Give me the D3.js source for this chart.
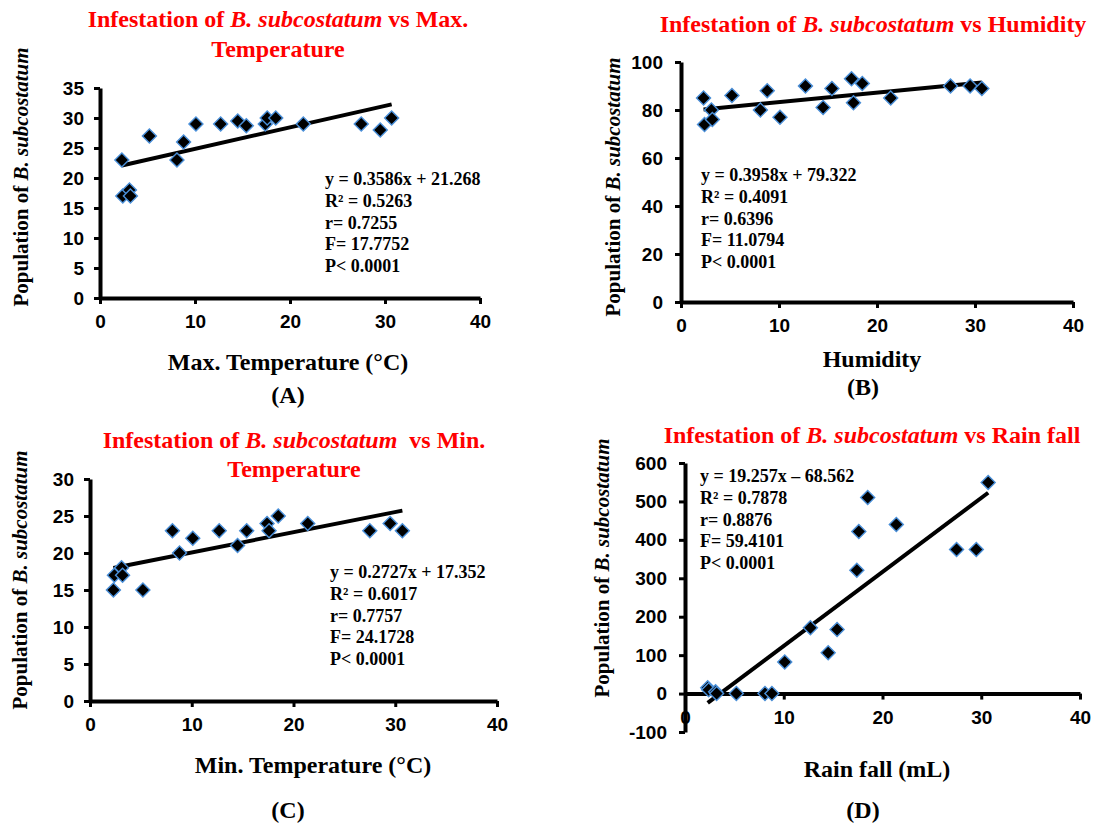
<!DOCTYPE html>
<html>
<head>
<meta charset="utf-8">
<script src="https://cdn.jsdelivr.net/npm/d3@7"></script>
<style>
body { margin: 0; background: #fff; }
svg text { font-family: "Liberation Serif", "Times New Roman", serif; font-weight: bold; }
.tick text { font-family: "Liberation Sans", Arial, sans-serif; }
</style>
</head>
<body>
<svg id="chart" width="1097" height="828"></svg>
<script>
// shared x values (same sampling for every panel)
const xValues = [2.3, 2.4, 3.1, 3.2, 5.2, 8.1, 8.8, 10.1, 12.7, 14.5, 15.4, 17.4, 17.6, 18.5, 21.4, 27.5, 29.5, 30.7]

const maxTempY = [23, 17, 18, 17, 27, 23, 26, 29, 29, 29.5, 28.7, 29, 30, 30, 29, 29, 28, 30]
const humidityY = [85, 74, 80, 76, 86, 80, 88, 77, 90, 81, 89, 93, 83, 91, 85, 90, 90, 89]
const minTempY = [15, 17, 18, 17, 15, 23, 20, 22, 23, 21, 23, 24, 23, 25, 24, 23, 24, 23]
const rainfallY = [15, 10, 5, 0, 0, 0, 0, 82, 171, 106, 167, 321, 422, 510, 440, 375, 375, 549]

const slopes = [0.3586, 0.3958, 0.2727, 19.257]
const intercepts = [21.268, 79.322, 17.352, -68.562]

const statsA = ['y = 0.3586x + 21.268', 'R² = 0.5263', 'r= 0.7255', 'F= 17.7752', 'P< 0.0001']
const statsB = ['y = 0.3958x + 79.322', 'R² = 0.4091', 'r= 0.6396', 'F= 11.0794', 'P< 0.0001']
const statsC = ['y = 0.2727x + 17.352', 'R² = 0.6017', 'r= 0.7757', 'F= 24.1728', 'P< 0.0001']
const statsD = ['y = 19.257x – 68.562', 'R² = 0.7878', 'r= 0.8876', 'F= 59.4101', 'P< 0.0001']

const xTicks = [0, 10, 20, 30, 40]
const yTicksA = [0, 5, 10, 15, 20, 25, 30, 35]
const yTicksB = [0, 20, 40, 60, 80, 100]
const yTicksC = [0, 5, 10, 15, 20, 25, 30]
const yTicksD = [-100, 0, 100, 200, 300, 400, 500, 600]

const titleA = [[['Infestation of ', 0], ['B. subcostatum', 1], [' vs Max.', 0]], [['Temperature', 0]]]
const titleB = [[['Infestation of ', 0], ['B. subcostatum', 1], [' vs Humidity', 0]]]
const titleC = [[['Infestation of ', 0], ['B. subcostatum', 1], ['\u00a0 vs Min.', 0]], [['Temperature', 0]]]
const titleD = [[['Infestation of ', 0], ['B. subcostatum', 1], [' vs Rain fall', 0]]]
const yLabel = [['Population of ', 0], ['B. subcostatum', 1]]

const xTitles = ['Max. Temperature (°C)', 'Humidity', 'Min. Temperature (°C)', 'Rain fall (mL)']
const panelTags = ['(A)', '(B)', '(C)', '(D)']

const svg = d3.select('#chart')

const panels = [
    {
        ys: maxTempY, yTicks: yTicksA, title: titleA, stats: statsA, k: 0,
        box: { l: 100, r: 480, t: 88, b: 298 }, pad: 10,
        titleX: 278, titleY: [27, 57], yLabX: 21, yLabY: 177,
        statsX: 325, statsY: 185, xTitleX: 288, xTitleY: 370, tagX: 288, tagY: 403
    },
    {
        ys: humidityY, yTicks: yTicksB, title: titleB, stats: statsB, k: 1,
        box: { l: 681, r: 1073, t: 62, b: 302 }, pad: 12,
        titleX: 873, titleY: [32], yLabX: 613, yLabY: 187,
        statsX: 701, statsY: 181, xTitleX: 872, xTitleY: 367, tagX: 863, tagY: 395
    },
    {
        ys: minTempY, yTicks: yTicksC, title: titleC, stats: statsC, k: 2,
        box: { l: 90, r: 497, t: 479, b: 701 }, pad: 10,
        titleX: 294, titleY: [448, 477], yLabX: 20, yLabY: 580,
        statsX: 330, statsY: 578, xTitleX: 313, xTitleY: 773, tagX: 288, tagY: 818
    },
    {
        ys: rainfallY, yTicks: yTicksD, title: titleD, stats: statsD, k: 3,
        box: { l: 685, r: 1080, t: 463, b: 732 }, pad: 12,
        titleX: 872, titleY: [443], yLabX: 602, yLabY: 568,
        statsX: 700, statsY: 482, xTitleX: 877, xTitleY: 777, tagX: 863, tagY: 818
    }
]

function styleAxis (g) {
    g.select('.domain')
        .attr('stroke', '#000')
        .attr('stroke-width', 4)
    g.selectAll('.tick line')
        .attr('stroke', '#000')
        .attr('stroke-width', 3)
    g.selectAll('.tick text')
        .attr('fill', '#000')
        .attr('font-size', 19)
        .attr('font-weight', 'bold')
}

function addRich (sel, parts) {
    parts.forEach(([t, it]) => {
        sel.append('tspan')
            .attr('font-style', it ? 'italic' : 'normal')
            .text(t)
    })
}

function drawPanel (p) {
    const { box } = p
    const yDom = d3.extent(p.yTicks)
    const x = d3.scaleLinear().domain([0, 40]).range([box.l, box.r])
    const y = d3.scaleLinear().domain(yDom).range([box.b, box.t])
    const g = svg.append('g')
    const plain = d => String(d) // keeps the ascii hyphen on -100

    // x axis sits on y = 0
    g.append('g')
        .attr('transform', `translate(0,${y(0)})`)
        .call(d3.axisBottom(x).tickValues(xTicks).tickFormat(plain)
            .tickSize(6).tickSizeOuter(0).tickPadding(11))
        .call(styleAxis)

    g.append('g')
        .attr('transform', `translate(${x(0)},0)`)
        .call(d3.axisLeft(y).tickValues(p.yTicks).tickFormat(plain)
            .tickSize(6).tickSizeOuter(0).tickPadding(p.pad))
        .call(styleAxis)

    // trend line from first to last x
    const xr = d3.extent(xValues)
    const fit = v => p.slope * v + p.icept
    g.append('line')
        .attr('x1', x(xr[0])).attr('y1', y(fit(xr[0])))
        .attr('x2', x(xr[1])).attr('y2', y(fit(xr[1])))
        .attr('stroke', '#000')
        .attr('stroke-width', 4)

    const sym = d3.symbol(d3.symbolSquare, 98)
    g.append('g')
        .selectAll('path')
        .data(xValues.map((v, i) => [v, p.ys[i]]))
        .join('path')
        .attr('d', sym)
        .attr('transform', d => `translate(${x(d[0])},${y(d[1])}) rotate(45)`)
        .attr('fill', '#000')
        .attr('stroke', '#4a8fd8')
        .attr('stroke-width', 1.4)

    p.title.forEach((line, i) => {
        const t = g.append('text')
            .attr('x', p.titleX)
            .attr('y', p.titleY[i])
            .attr('text-anchor', 'middle')
            .attr('fill', '#ff0000')
            .attr('font-size', 24)
        addRich(t, line)
    })

    const yl = g.append('text')
        .attr('transform', `translate(${p.yLabX},${p.yLabY}) rotate(-90)`)
        .attr('text-anchor', 'middle')
        .attr('dy', '0.35em')
        .attr('font-size', 21)
    addRich(yl, yLabel)

    g.append('g')
        .selectAll('text')
        .data(p.stats)
        .join('text')
        .attr('x', p.statsX)
        .attr('y', (d, i) => p.statsY + i * 21.8)
        .attr('font-size', 18)
        .text(d => d)

    g.append('text')
        .attr('x', p.xTitleX)
        .attr('y', p.xTitleY)
        .attr('text-anchor', 'middle')
        .attr('font-size', 24)
        .text(xTitles[p.k])

    g.append('text')
        .attr('x', p.tagX)
        .attr('y', p.tagY)
        .attr('text-anchor', 'middle')
        .attr('font-size', 24)
        .text(panelTags[p.k])
}

panels.forEach(p => {
    p.slope = slopes[p.k]
    p.icept = intercepts[p.k]
    drawPanel(p)
})
</script>
</body>
</html>
